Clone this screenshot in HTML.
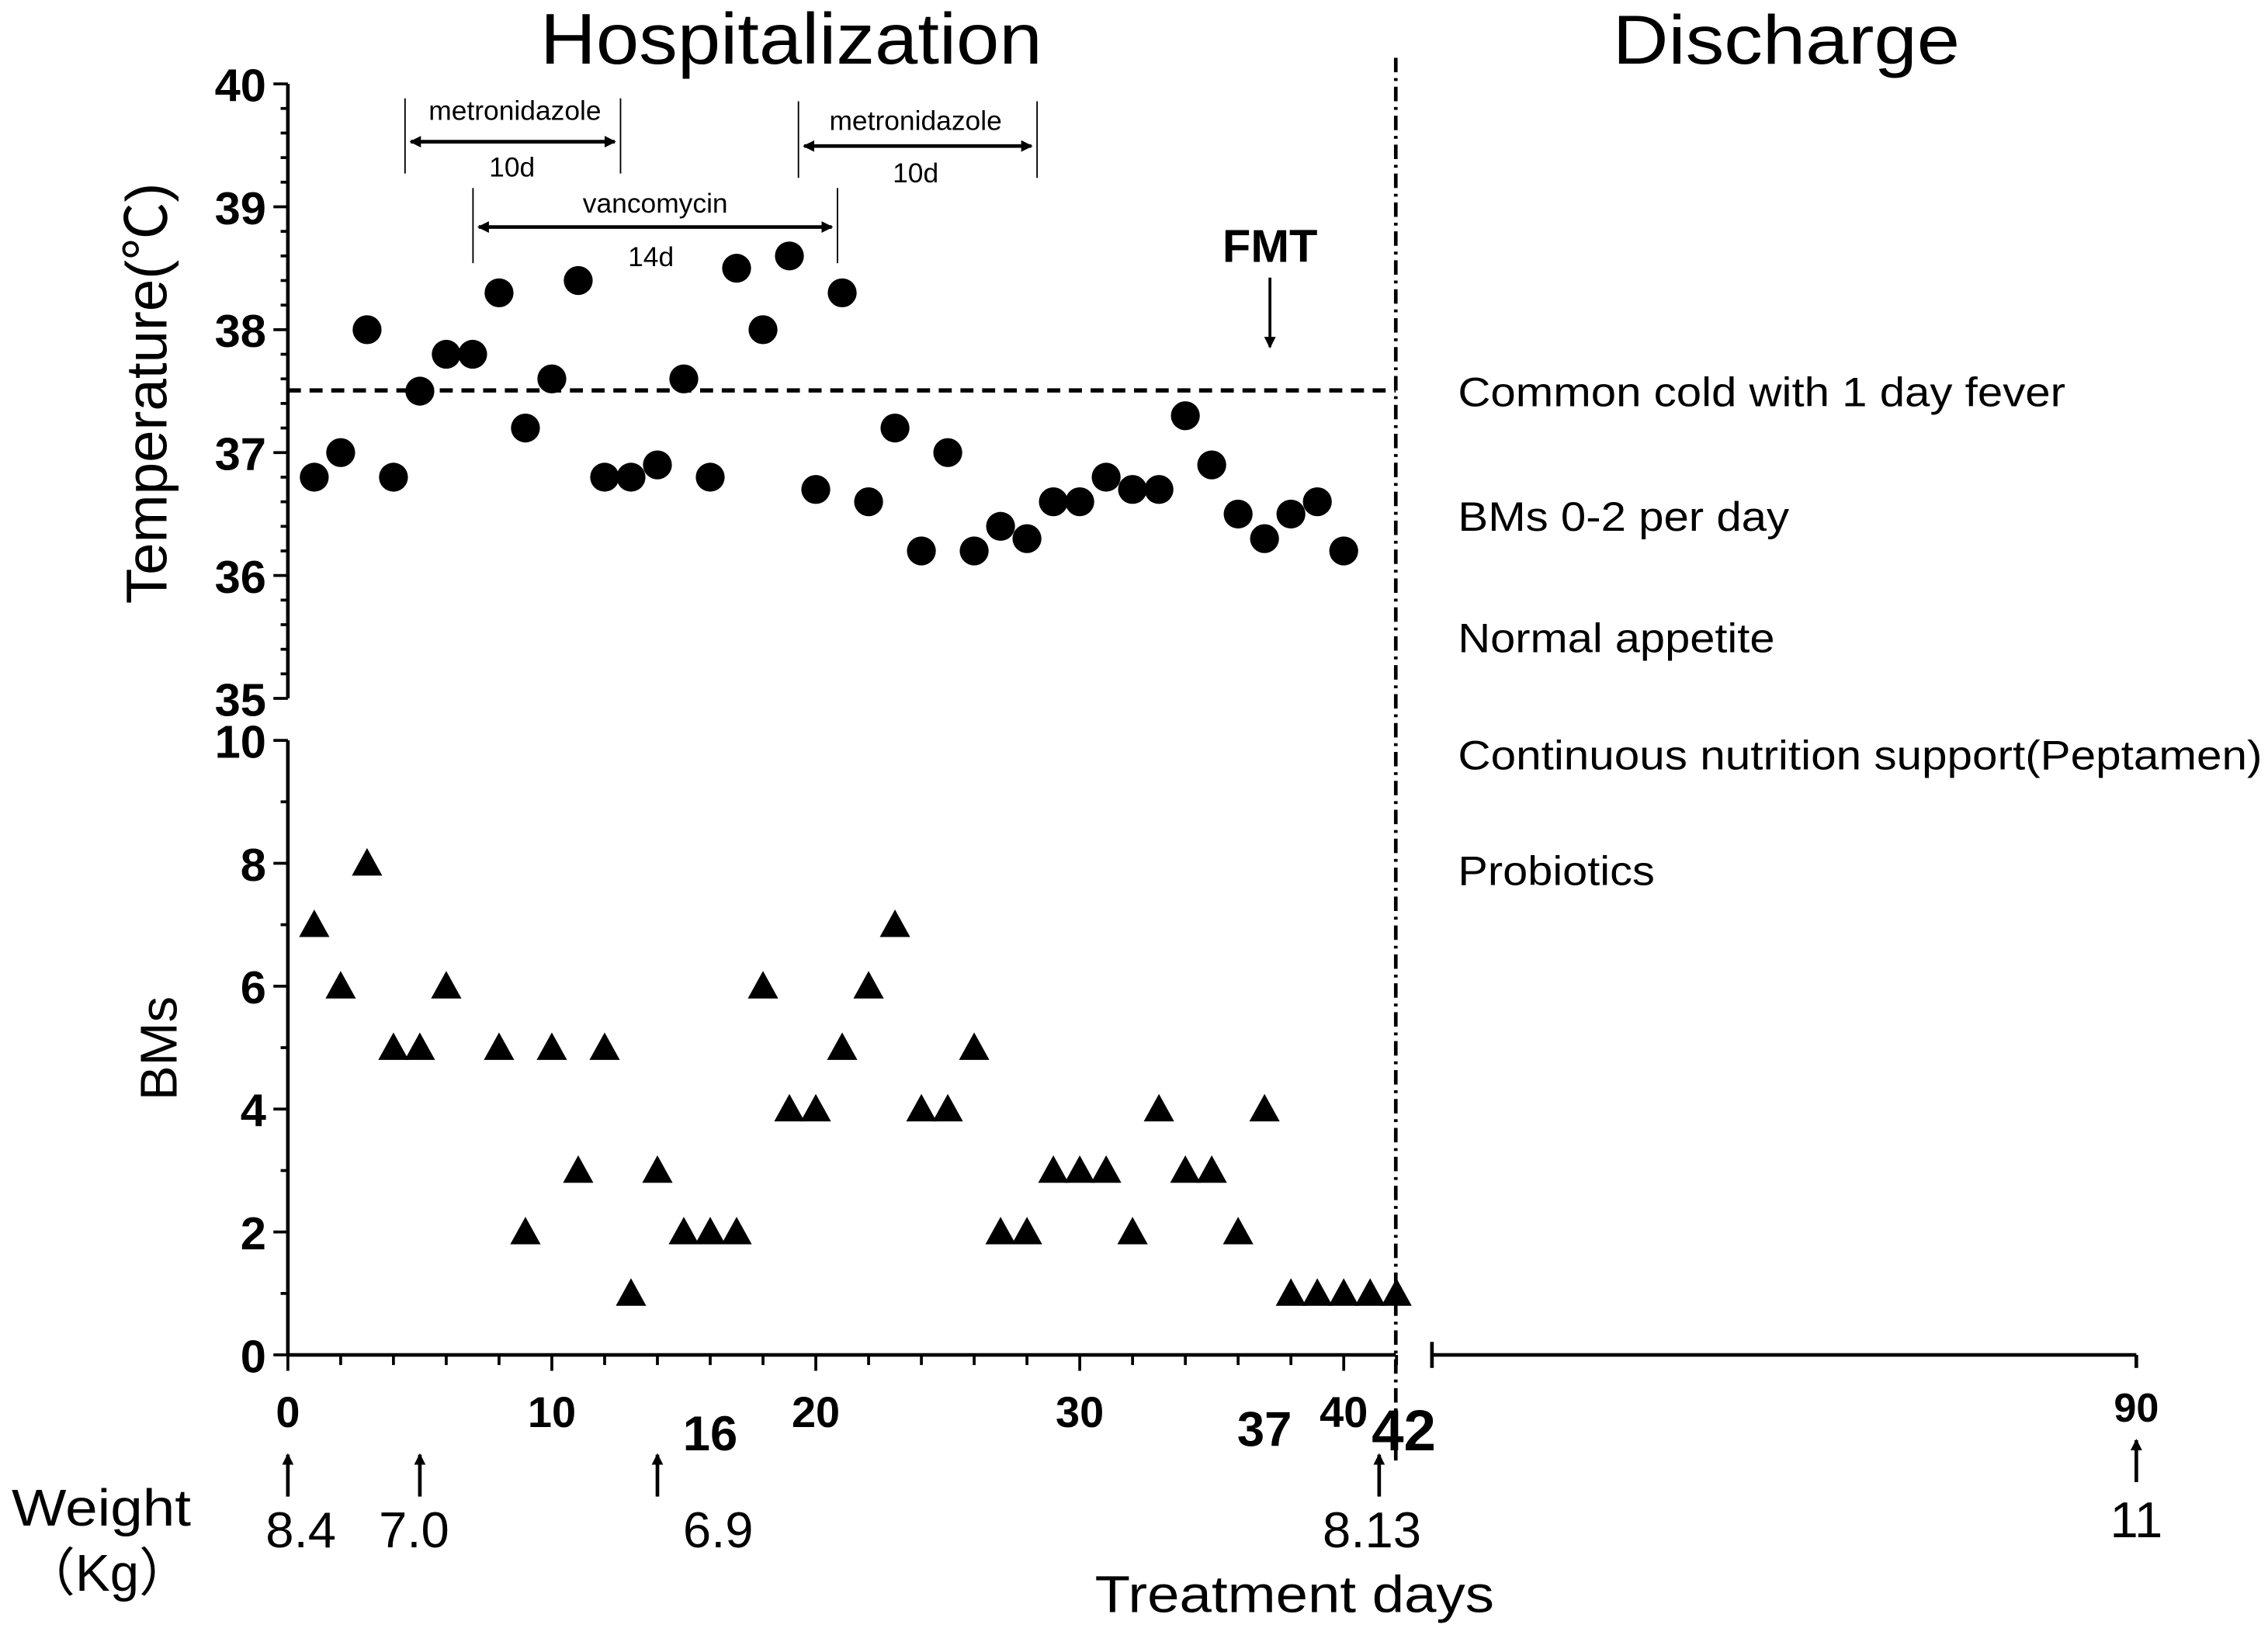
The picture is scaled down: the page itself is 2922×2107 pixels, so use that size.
<!DOCTYPE html>
<html><head><meta charset="utf-8"><style>
html,body{margin:0;padding:0;background:#fff;}
svg{display:block;}
text{font-family:"Liberation Sans","Noto Sans CJK SC",sans-serif;fill:#000;}
.b{font-family:"Liberation Sans Narrow","Liberation Sans",sans-serif;font-weight:bold;}
</style></head><body>
<svg id="chart" width="2922" height="2107" viewBox="0 0 1568 1130.7" xmlns="http://www.w3.org/2000/svg">
<defs>
<marker id="ah" markerWidth="8" markerHeight="8" refX="7" refY="4" orient="auto-start-reverse" markerUnits="userSpaceOnUse"><path d="M0,0 L8,4 L0,8 z" fill="#000"/></marker>
</defs>
<g id="static">
<text x="547" y="44" font-size="50" text-anchor="middle" textLength="347" lengthAdjust="spacingAndGlyphs">Hospitalization</text>
<text x="1235" y="44" font-size="48" text-anchor="middle" textLength="240" lengthAdjust="spacingAndGlyphs">Discharge</text>
<text transform="translate(115,272) rotate(-90)" font-size="40" text-anchor="middle">Temperature(℃)</text>
<text transform="translate(122,725) rotate(-90)" font-size="36" text-anchor="middle">BMs</text>
<line x1="199" y1="270" x2="965" y2="270" stroke="#000" stroke-width="3" stroke-dasharray="9,6"/>
<line x1="965" y1="40" x2="965" y2="1010" stroke="#000" stroke-width="2.5" stroke-dasharray="10,4,2,4"/>
<line x1="990" y1="937" x2="1477" y2="937" stroke="#000" stroke-width="2.5"/>
<line x1="990" y1="928" x2="990" y2="946" stroke="#000" stroke-width="2.5"/>
<line x1="1477" y1="937" x2="1477" y2="946" stroke="#000" stroke-width="2.5"/>
<text x="1008" y="281" font-size="28.5" textLength="420" lengthAdjust="spacingAndGlyphs">Common cold with 1 day fever</text>
<text x="1008" y="367" font-size="28.5" textLength="229" lengthAdjust="spacingAndGlyphs">BMs 0-2 per day</text>
<text x="1008" y="451" font-size="28.5" textLength="219" lengthAdjust="spacingAndGlyphs">Normal appetite</text>
<text x="1008" y="532" font-size="28.5" textLength="556" lengthAdjust="spacingAndGlyphs">Continuous nutrition support(Peptamen)</text>
<text x="1008" y="612" font-size="28.5" textLength="136" lengthAdjust="spacingAndGlyphs">Probiotics</text>
<g>
<line x1="280" y1="68" x2="280" y2="120" stroke="#000"/><line x1="429" y1="68" x2="429" y2="120" stroke="#000"/>
<line x1="284" y1="98" x2="425" y2="98" stroke="#000" stroke-width="2.5" marker-start="url(#ah)" marker-end="url(#ah)"/>
<text x="356" y="83" font-size="19" text-anchor="middle">metronidazole</text>
<text x="354" y="122" font-size="19" text-anchor="middle">10d</text></g>
<g>
<line x1="552" y1="70" x2="552" y2="123" stroke="#000"/><line x1="717" y1="70" x2="717" y2="123" stroke="#000"/>
<line x1="556" y1="101" x2="713" y2="101" stroke="#000" stroke-width="2.5" marker-start="url(#ah)" marker-end="url(#ah)"/>
<text x="633" y="90" font-size="19" text-anchor="middle">metronidazole</text>
<text x="633" y="126" font-size="19" text-anchor="middle">10d</text></g>
<g>
<line x1="327" y1="130" x2="327" y2="182" stroke="#000"/><line x1="579" y1="130" x2="579" y2="182" stroke="#000"/>
<line x1="331" y1="157" x2="575" y2="157" stroke="#000" stroke-width="2.5" marker-start="url(#ah)" marker-end="url(#ah)"/>
<text x="453" y="147" font-size="19" text-anchor="middle">vancomycin</text>
<text x="450" y="184" font-size="19" text-anchor="middle">14d</text></g>
<text class="b" x="878" y="181" font-size="32" text-anchor="middle">FMT</text>
<line x1="878" y1="192" x2="878" y2="240" stroke="#000" stroke-width="2" marker-end="url(#ah)"/>
<text x="8" y="1055" font-size="36" textLength="124" lengthAdjust="spacingAndGlyphs">Weight</text>
<text x="16" y="1100" font-size="36">（Kg）</text>
<text x="895" y="1115" font-size="36" text-anchor="middle" textLength="276" lengthAdjust="spacingAndGlyphs">Treatment days</text>
<text class="b" x="1477" y="983" font-size="28" text-anchor="middle">90</text>
<line x1="1477" y1="1025" x2="1477" y2="996" stroke="#000" stroke-width="2.5" marker-end="url(#ah)"/>
<text x="1477" y="1063" font-size="35" text-anchor="middle">11</text>
</g>
<g id="plot"></g>
</svg>
<script>
const tempDays=[1,2,3,4,5,6,7,8,9,10,11,12,13,14,15,16,17,18,19,20,21,22,23,24,25,26,27,28,29,30,31,32,33,34,35,36,37,38,39,40];
const tempValues=[36.8,37.0,38.0,36.8,37.5,37.8,37.8,38.3,37.2,37.6,38.4,36.8,36.8,36.9,37.6,36.8,38.5,38.0,38.6,36.7,38.3,36.6,37.2,36.2,37.0,36.2,36.4,36.3,36.6,36.6,36.8,36.7,36.7,37.3,36.9,36.5,36.3,36.5,36.6,36.2];
const bmDays=[1,2,3,4,5,6,8,9,10,11,12,13,14,15,16,17,18,19,20,21,22,23,24,25,26,27,28,29,30,31,32,33,34,35,36,37,38,39,40,41,42];
const bmValues=[7,6,8,5,5,6,5,2,5,3,5,1,3,2,2,2,6,4,4,5,6,7,4,4,5,2,2,3,3,3,2,4,3,3,2,4,1,1,1,1,1];
const tempTicks=[35,36,37,38,39,40];
const bmTicks=[0,2,4,6,8,10];
const dayTicks=[0,10,20,30,40];
const weightDays=[0,5,14,42];
const weightLabels=["8.4","7.0","6.9","8.13"];
const NS="http://www.w3.org/2000/svg";
const X=d=>199+d*18.25;
const YT=t=>58+(40-t)*85;
const YB=b=>937-b*42.5;
const g=document.getElementById('plot');
function mk(tag,attrs,txt){const e=document.createElementNS(NS,tag);for(const k in attrs)e.setAttribute(k,attrs[k]);if(txt!==undefined)e.textContent=txt;g.appendChild(e);return e;}
let a=mk('line',{x1:199,y1:58,x2:199,y2:483,stroke:'#000','stroke-width':2.5});


a=mk('line',{x1:199,y1:512,x2:199,y2:937,stroke:'#000','stroke-width':2.5});


a=mk('line',{x1:199,y1:937,x2:965,y2:937,stroke:'#000','stroke-width':2.5});


for(let t=35;t<=40.001;t+=0.2){const maj=Math.abs(t-Math.round(t))<0.01;mk('line',{x1:maj?189:194,y1:YT(t),x2:199,y2:YT(t),stroke:'#000','stroke-width':2});}
for(let b=0;b<=10;b++){mk('line',{x1:b%2==0?189:194,y1:YB(b),x2:199,y2:YB(b),stroke:'#000','stroke-width':2});}
for(let d=0;d<=42;d+=2){mk('line',{x1:X(d),y1:937,x2:X(d),y2:d%10==0?948:944,stroke:'#000','stroke-width':2});}
tempTicks.forEach(t=>{const e=mk('text',{x:184,y:YT(t)+12,'font-size':32,'text-anchor':'end',class:'b'},String(t));

});
bmTicks.forEach(b=>{const e=mk('text',{x:184,y:YB(b)+12,'font-size':32,'text-anchor':'end',class:'b'},String(b));

});
dayTicks.forEach(d=>{const e=mk('text',{x:X(d),y:987,'font-size':30,'text-anchor':'middle',class:'b'},String(d));

});
[[16,1003,34],[37,1000,34],[42,1003,40]].forEach(([d,y,fs])=>{const e=mk('text',{x:X(d)+(d==42?5:0),y:y,'font-size':fs,'text-anchor':'middle',class:'b'},String(d));

});
weightDays.forEach((d,i)=>{const x=X(d)-(d==42?12:0);
const ar=mk('line',{x1:x,y1:1035,x2:x,y2:1006,stroke:'#000','stroke-width':2.5,'marker-end':'url(#ah)'});


const off=[9,-4,42,-5][i];
const e=mk('text',{x:x+off,y:1070,'font-size':35,'text-anchor':'middle'},weightLabels[i]);

});
tempDays.forEach((d,i)=>{const c=mk('circle',{cx:X(d),cy:YT(tempValues[i]),r:10,fill:'#000'});

});
bmDays.forEach((d,i)=>{const x=X(d),y=YB(bmValues[i]);const p=mk('polygon',{points:`${x},${y-10.5} ${x-10.5},${y+8.5} ${x+10.5},${y+8.5}`,fill:'#000'});

});
</script>
</body></html>
